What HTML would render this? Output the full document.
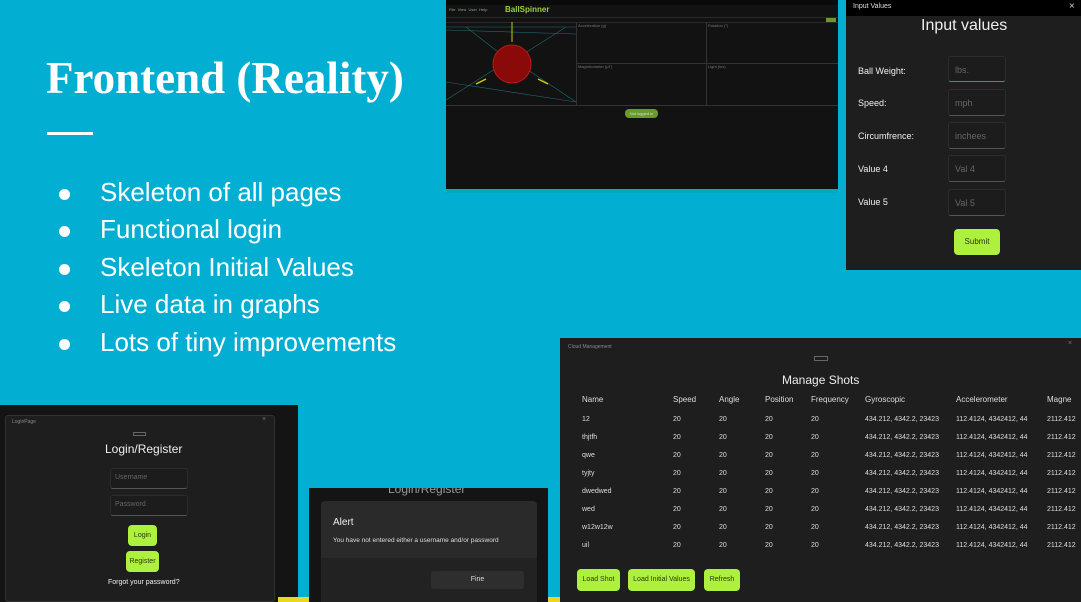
<!DOCTYPE html>
<html><head><meta charset="utf-8"><style>
*{margin:0;padding:0;box-sizing:border-box}
body{width:1081px;height:602px;background:#02aed1;position:relative;overflow:hidden;font-family:"Liberation Sans",sans-serif}
.a{position:absolute}
.t{white-space:nowrap}
.title{left:46px;top:52px;font-family:"Liberation Serif",serif;font-weight:bold;font-size:45px;color:#fff}
.bar{left:47px;top:132px;width:46px;height:3px;background:#fff}
.bl{left:57px;font-size:26px;color:#fff}
.bl span{position:absolute;left:43px;top:-2px}
.dot{width:11px;height:11px;border-radius:50%;background:#fff;position:absolute;left:2px;top:10px}
.dark{background:#1e1e1e}
.g{background:#adf03d;color:#2a3a10;border-radius:4px;font-size:7px;text-align:center}
.inp{border:1px solid #2c2c2c;border-bottom:1px solid #555;border-radius:3px;background:#1c1c1c;color:#666;font-size:9px;padding:8px 6px}
.tb td{color:#ddd;font-size:7px;height:18px;white-space:nowrap}
.gl{font-size:4px;color:#777}
</style></head><body>
<div class="a t title">Frontend (Reality)</div>
<div class="a bar"></div>
<div class="a bl t" style="top:179px"><div class="dot"></div><span>Skeleton of all pages</span></div>
<div class="a bl t" style="top:216px"><div class="dot"></div><span>Functional login</span></div>
<div class="a bl t" style="top:254px"><div class="dot"></div><span>Skeleton Initial Values</span></div>
<div class="a bl t" style="top:291px"><div class="dot"></div><span>Live data in graphs</span></div>
<div class="a bl t" style="top:329px"><div class="dot"></div><span>Lots of tiny improvements</span></div>

<!-- top app screenshot -->
<div class="a" style="left:446px;top:0;width:392px;height:193px;background:#121212">
 <div class="a" style="left:0;top:0;width:392px;height:5px;background:#0a0a0a"></div>
 <div class="a t" style="left:3px;top:7px;font-size:4px;color:#8a8">File&nbsp;&nbsp;View&nbsp;&nbsp;User&nbsp;&nbsp;Help</div>
 <div class="a t" style="left:59px;top:5px;font-size:8px;color:#9bd03a;font-weight:bold">BallSpinner</div>
 <div class="a" style="left:0;top:17px;width:392px;height:1px;background:#2a2a2a"></div>
 <div class="a" style="left:380px;top:18px;width:10px;height:4px;background:#6a9a2a"></div>
 <div class="a" style="left:0;top:22px;width:392px;height:1px;background:#2a2a2a"></div>
 <div class="a" style="left:130px;top:22px;width:1px;height:83px;background:#333"></div>
 <div class="a" style="left:260px;top:22px;width:1px;height:83px;background:#333"></div>
 <div class="a" style="left:130px;top:63px;width:262px;height:1px;background:#333"></div>
 <div class="a" style="left:0;top:105px;width:392px;height:1px;background:#333"></div>
 <div class="a t gl" style="left:132px;top:23px">Acceleration (g)</div>
 <div class="a t gl" style="left:262px;top:23px">Rotation (°)</div>
 <div class="a t gl" style="left:132px;top:64px">Magnetometer (µT)</div>
 <div class="a t gl" style="left:262px;top:64px">Light (lux)</div>
 <svg class="a" style="left:0;top:22px" width="130" height="83"><g stroke="#1f6a70" stroke-width=".6"><line x1="0" y1="5" x2="130" y2="5"/><line x1="0" y1="8" x2="130" y2="12"/><line x1="0" y1="60" x2="130" y2="80"/><line x1="0" y1="78" x2="60" y2="40"/><line x1="130" y1="80" x2="70" y2="40"/><line x1="20" y1="5" x2="65" y2="40"/><line x1="120" y1="5" x2="65" y2="40"/></g><line x1="66" y1="0" x2="66" y2="20" stroke="#cc0" /><line x1="30" y1="62" x2="40" y2="57" stroke="#cc0" stroke-width="1.5"/><line x1="92" y1="57" x2="102" y2="62" stroke="#cc0" stroke-width="1.5"/><circle cx="66" cy="42" r="19" fill="#8a0a0a" stroke="#c01818"/></svg>
 <div class="a g t" style="left:179px;top:109px;width:33px;height:9px;background:#6a9a2a;color:#ddd;font-size:4px;line-height:9px">Not logged in</div>
 <div class="a" style="left:0;top:189px;width:392px;height:4px;background:#0ab"></div>
</div>

<!-- input values -->
<div class="a dark" style="left:846px;top:0;width:235px;height:270px">
 <div class="a" style="left:0;top:0;width:235px;height:16px;background:#000"></div>
 <div class="a t" style="left:7px;top:3px;font-size:7px;color:#ddd">Input Values</div>
 <div class="a t" style="left:223px;top:1px;font-size:10px;color:#ccc">×</div>
 <div class="a t" style="left:75px;top:17px;font-size:16px;color:#eee">Input values</div>
 <div class="a t" style="left:12px;top:66px;font-size:9px;color:#eee">Ball Weight:</div>
 <div class="a t" style="left:12px;top:98px;font-size:9px;color:#eee">Speed:</div>
 <div class="a t" style="left:12px;top:131px;font-size:9px;color:#eee">Circumfrence:</div>
 <div class="a t" style="left:12px;top:164px;font-size:9px;color:#eee">Value 4</div>
 <div class="a t" style="left:12px;top:197px;font-size:9px;color:#eee">Value 5</div>
 <div class="a inp" style="left:102px;top:56px;width:58px;height:26px;border-bottom-color:#4a9a4a">lbs.</div>
 <div class="a inp" style="left:102px;top:89px;width:58px;height:27px">mph</div>
 <div class="a inp" style="left:102px;top:122px;width:58px;height:27px">inchees</div>
 <div class="a inp" style="left:102px;top:155px;width:58px;height:27px">Val 4</div>
 <div class="a inp" style="left:102px;top:189px;width:58px;height:27px">Val 5</div>
 <div class="a g" style="left:108px;top:229px;width:46px;height:26px;line-height:26px;font-size:8px">Submit</div>
</div>

<!-- login -->
<div class="a" style="left:0;top:405px;width:298px;height:197px;background:#141414">
 <div class="a dark" style="left:5px;top:10px;width:270px;height:187px;border:1px solid #333;border-radius:3px">
  <div class="a t" style="left:6px;top:3px;font-size:5px;color:#888">LoginPage</div>
  <div class="a t" style="left:256px;top:0;font-size:7px;color:#777">×</div>
  <div class="a" style="left:127px;top:16px;width:13px;height:4px;border:1px solid #666"></div>
  <div class="a t" style="left:99px;top:26px;font-size:12px;color:#eee">Login/Register</div>
  <div class="a inp" style="left:104px;top:52px;width:78px;height:21px;font-size:7px;padding:5px 4px">Username</div>
  <div class="a inp" style="left:104px;top:79px;width:78px;height:21px;font-size:7px;padding:5px 4px">Password</div>
  <div class="a g" style="left:122px;top:109px;width:29px;height:21px;line-height:21px">Login</div>
  <div class="a g" style="left:120px;top:135px;width:33px;height:21px;line-height:21px">Register</div>
  <div class="a t" style="left:102px;top:163px;font-size:7px;color:#eee">Forgot your password?</div>
 </div>
</div>
<div class="a" style="left:278px;top:597px;width:282px;height:5px;background:#e8d820"></div>

<!-- alert -->
<div class="a" style="left:309px;top:488px;width:239px;height:114px;background:#141414;overflow:hidden">
 <div class="a t" style="left:79px;top:-6px;font-size:12px;color:#999">Login/Register</div>
 <div class="a" style="left:12px;top:13px;width:216px;height:101px;background:#2a2a2a;border-radius:4px">
  <div class="a t" style="left:12px;top:16px;font-size:10px;color:#eee">Alert</div>
  <div class="a t" style="left:12px;top:36px;font-size:6.5px;color:#ddd">You have not entered either a username and/or password</div>
  <div class="a" style="left:0;top:57px;width:216px;height:44px;background:#222"></div>
  <div class="a t" style="left:110px;top:70px;width:93px;height:18px;background:#2e2e2e;border-radius:3px;color:#ddd;font-size:7px;text-align:center;line-height:18px">Fine</div>
 </div>
</div>

<!-- manage shots -->
<div class="a" style="left:560px;top:338px;width:521px;height:264px;background:#1e1e1e">
 <div class="a t" style="left:8px;top:6px;font-size:5px;color:#888">Cloud Management</div>
 <div class="a t" style="left:508px;top:2px;font-size:7px;color:#777">×</div>
 <div class="a" style="left:254px;top:18px;width:14px;height:5px;border:1px solid #666"></div>
 <div class="a t" style="left:222px;top:35px;font-size:12px;color:#eee">Manage Shots</div>
 <table class="a tb" style="left:22px;top:51px;border-collapse:collapse">
  <tr><td style="width:91px;font-size:8px;height:21px">Name</td><td style="width:46px;font-size:8px">Speed</td><td style="width:46px;font-size:8px">Angle</td><td style="width:46px;font-size:8px">Position</td><td style="width:54px;font-size:8px">Frequency</td><td style="width:91px;font-size:8px">Gyroscopic</td><td style="width:91px;font-size:8px">Accelerometer</td><td style="font-size:8px">Magne</td></tr>
  <tr><td>12</td><td>20</td><td>20</td><td>20</td><td>20</td><td>434.212, 4342.2, 23423</td><td>112.4124, 4342412, 44</td><td>2112.412</td></tr>
  <tr><td>thjtfh</td><td>20</td><td>20</td><td>20</td><td>20</td><td>434.212, 4342.2, 23423</td><td>112.4124, 4342412, 44</td><td>2112.412</td></tr>
  <tr><td>qwe</td><td>20</td><td>20</td><td>20</td><td>20</td><td>434.212, 4342.2, 23423</td><td>112.4124, 4342412, 44</td><td>2112.412</td></tr>
  <tr><td>tyjty</td><td>20</td><td>20</td><td>20</td><td>20</td><td>434.212, 4342.2, 23423</td><td>112.4124, 4342412, 44</td><td>2112.412</td></tr>
  <tr><td>dwedwed</td><td>20</td><td>20</td><td>20</td><td>20</td><td>434.212, 4342.2, 23423</td><td>112.4124, 4342412, 44</td><td>2112.412</td></tr>
  <tr><td>wed</td><td>20</td><td>20</td><td>20</td><td>20</td><td>434.212, 4342.2, 23423</td><td>112.4124, 4342412, 44</td><td>2112.412</td></tr>
  <tr><td>w12w12w</td><td>20</td><td>20</td><td>20</td><td>20</td><td>434.212, 4342.2, 23423</td><td>112.4124, 4342412, 44</td><td>2112.412</td></tr>
  <tr><td>uil</td><td>20</td><td>20</td><td>20</td><td>20</td><td>434.212, 4342.2, 23423</td><td>112.4124, 4342412, 44</td><td>2112.412</td></tr>
 </table>
 <div class="a g" style="left:17px;top:231px;width:43px;height:22px;line-height:22px">Load Shot</div>
 <div class="a g" style="left:68px;top:231px;width:67px;height:22px;line-height:22px">Load Initial Values</div>
 <div class="a g" style="left:144px;top:231px;width:36px;height:22px;line-height:22px">Refresh</div>
</div>
</body></html>
